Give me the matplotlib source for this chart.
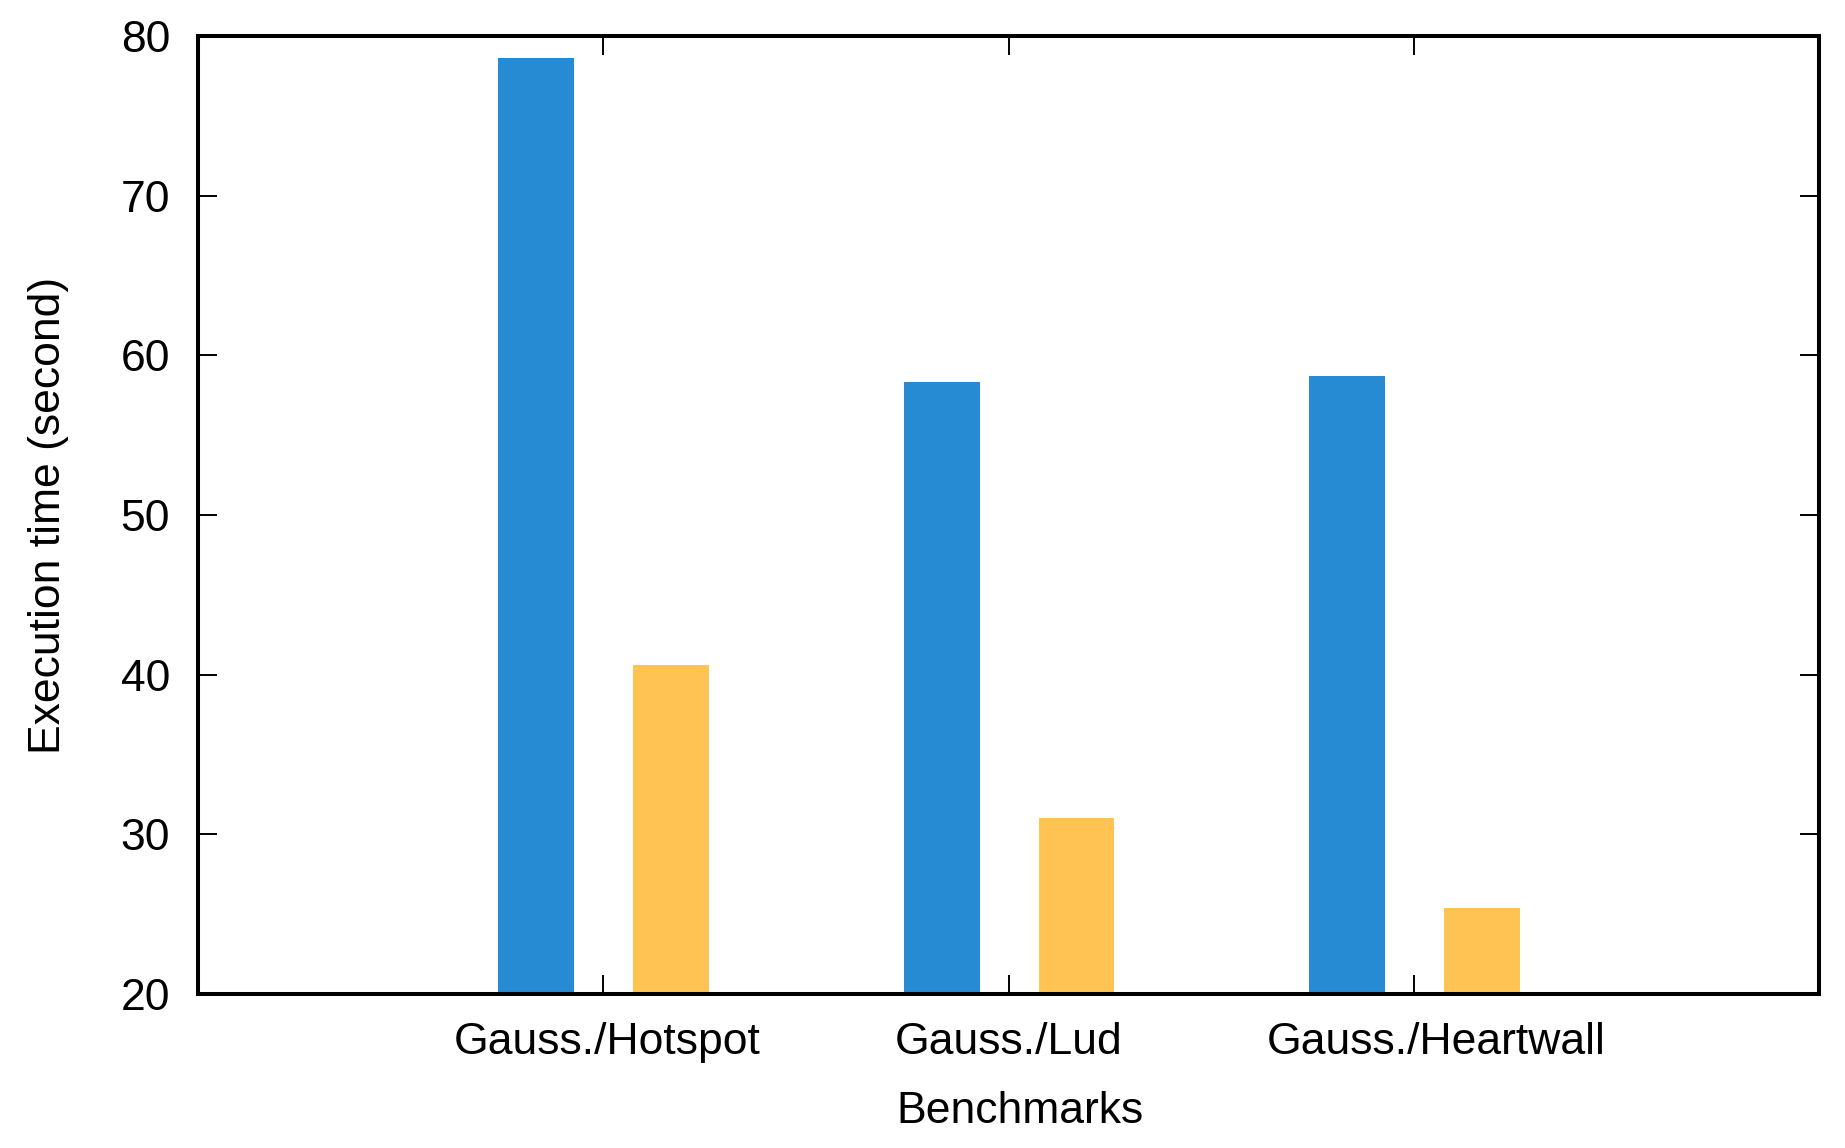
import matplotlib
matplotlib.use("Agg")
import matplotlib.pyplot as plt
import matplotlib.transforms as mtransforms
import numpy as np

plt.rcParams['font.family'] = ['Liberation Sans', 'DejaVu Sans']

benchmarks = ["Gauss./Hotspot", "Gauss./Lud", "Gauss./Heartwall"]
serie_a = [78.6, 58.3, 58.7]
serie_b = [40.6, 31.0, 25.4]

fig = plt.figure(figsize=(18.45, 11.48), dpi=100)
ax = fig.add_axes([198/1845, 1 - 994/1148, (1819-198)/1845, (994-36)/1148])

x = np.arange(1, len(benchmarks) + 1)
ax.bar(x - 0.165, serie_a, width=0.187, color="#268bd2", bottom=0)
ax.bar(x + 0.168, serie_b, width=0.187, color="#ffc353", bottom=0)

ax.set_xlim(0, 4)
ax.set_ylim(20, 80)
ax.set_xticks(x)
ax.set_xticklabels(benchmarks)
ax.set_yticks(np.arange(20, 81, 10))

for s in ax.spines.values():
    s.set_linewidth(2.9)
ax.tick_params(direction="in", length=14, width=1.4, labelsize=32,
               top=True, right=True)
ax.tick_params(axis="y", pad=20)
ax.tick_params(axis="x", pad=20)

# small horizontal nudges so labels sit like in the original
nudge = [4, 0, 22]
for lab, dx in zip(ax.get_xticklabels(), nudge):
    lab.set_transform(lab.get_transform() + mtransforms.ScaledTranslation(dx / 100, 0, fig.dpi_scale_trans))

ax.set_xlabel("Benchmarks", fontsize=32)
ax.set_ylabel("Execution time (second)", fontsize=32)
ax.xaxis.set_label_coords(0.507, -0.101)
ax.yaxis.set_label_coords(-0.0795, 0.5)

fig.savefig("out.png", dpi=100)
